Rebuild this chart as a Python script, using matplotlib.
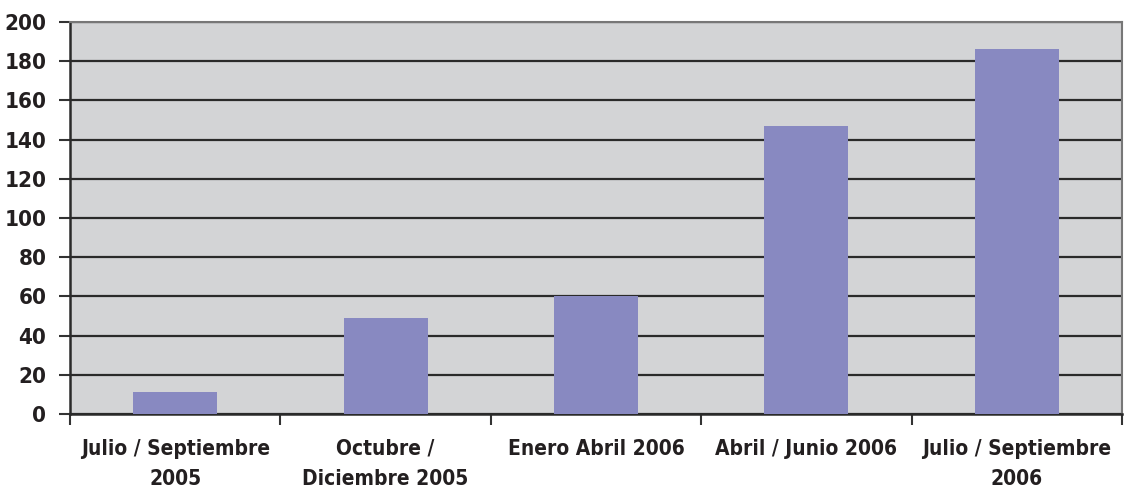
import matplotlib
matplotlib.use("Agg")
import matplotlib.pyplot as plt
import numpy as np

categorias = ["Julio / Septiembre\n2005", "Octubre /\nDiciembre 2005", "Enero Abril 2006",
              "Abril / Junio 2006", "Julio / Septiembre\n2006"]
valores = [11, 49, 60, 147, 186]
yticks = [0, 20, 40, 60, 80, 100, 120, 140, 160, 180, 200]

plt.rcParams['font.family'] = ['Liberation Sans Narrow', 'DejaVu Sans']
plt.rcParams['font.stretch'] = 'condensed'

fig = plt.figure(figsize=(11.24, 4.95), dpi=100)
ax = fig.add_axes([70/1124, 1 - 414/495, (1122-70)/1124, (414-22)/495])

x = np.arange(len(valores))
ax.set_facecolor('#D3D4D6')
ax.yaxis.grid(True, color='#2a2a2a', linewidth=1.6)
ax.set_axisbelow(True)
ax.bar(x, valores, width=0.4, color='#8889C1', zorder=3)

ax.set_xlim(-0.5, len(valores) - 0.5)
ax.set_ylim(0, 200)
ax.set_yticks(yticks)
ax.set_yticklabels([str(v) for v in yticks], fontsize=16, fontweight='bold', color='#231f20',
                   fontstretch='condensed')

# ticks between categories, labels centered on categories
ax.set_xticks(np.arange(len(valores) + 1) - 0.5)
ax.set_xticklabels([])
ax.set_xticks(x, minor=True)
ax.set_xticklabels(categorias, minor=True, fontsize=15, fontweight='bold', color='#231f20',
                   linespacing=1.65, fontstretch='condensed')
ax.tick_params(axis='x', which='minor', length=0, pad=18)
ax.tick_params(axis='x', which='major', length=8, width=1.5, color='#333333', direction='out')
ax.tick_params(axis='y', length=8, width=1.5, color='#333333', pad=9)

for s in ['left', 'bottom']:
    ax.spines[s].set_color('#2a2a2a')
    ax.spines[s].set_linewidth(1.8)
for s in ['top', 'right']:
    ax.spines[s].set_color('#777777')
    ax.spines[s].set_linewidth(1.5)

fig.savefig('out.png', dpi=100, facecolor='white')
